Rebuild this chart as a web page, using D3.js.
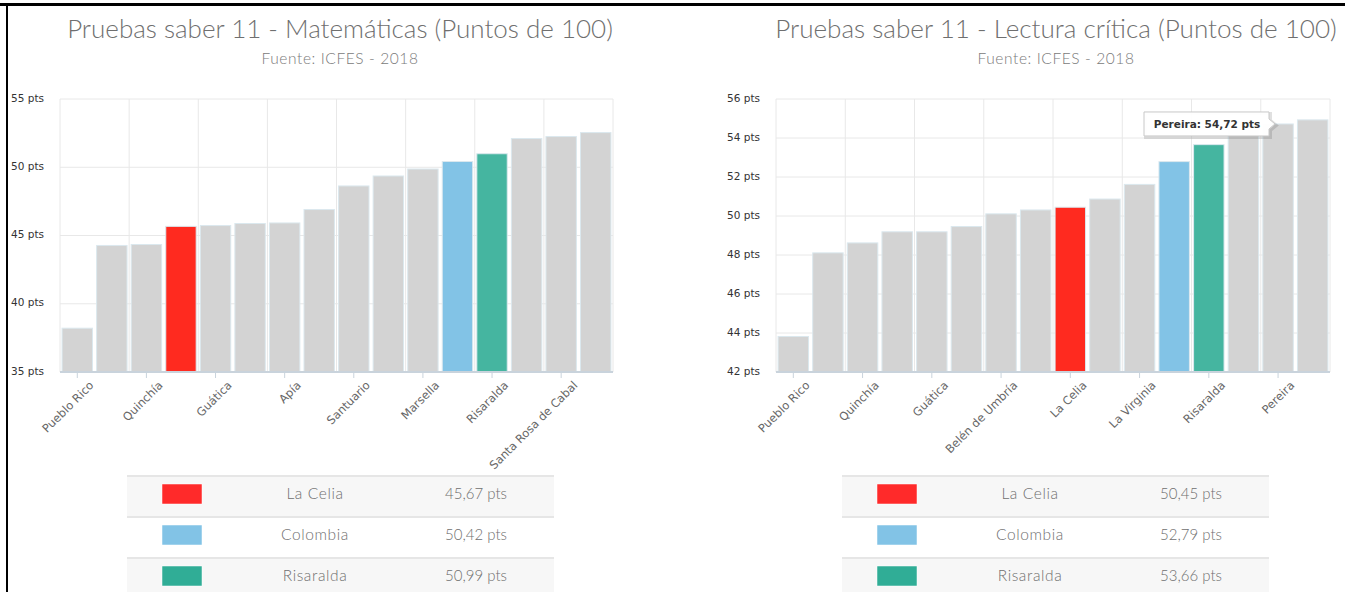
<!DOCTYPE html>
<html lang="es">
<head>
<meta charset="UTF-8">
<title>Pruebas saber 11</title>
<script src="https://cdnjs.cloudflare.com/ajax/libs/d3/7.8.5/d3.min.js"></script>
<style>
    body { margin: 0; background: #fff; }
    svg { display: block; }
    .thin { font-family: Lato, "Open Sans", sans-serif; font-weight: 300; }
    .axis text { font-family: "DejaVu Sans", Verdana, sans-serif; font-size: 10.5px; }
</style>
</head>
<body>
<svg id="chart" width="1345" height="592"></svg>
<script>
// Matematicas, ordered as in the picture
var mathCategories = ['Pueblo Rico', 'Mistrató', 'Quinchía', 'La Celia', 'Guática', 'Belén de Umbría',
    'Apía', 'Balboa', 'Santuario', 'La Virginia', 'Marsella', 'Colombia', 'Risaralda',
    'Dosquebradas', 'Santa Rosa de Cabal', 'Pereira'];
var mathValues = [38.21, 44.27, 44.34, 45.67, 45.73, 45.88, 45.92, 46.90, 48.63, 49.36, 49.87,
    50.42, 50.99, 52.10, 52.25, 52.54];
var mathTicks = [35, 40, 45, 50, 55];

// Lectura critica
var lecturaCategories = ['Pueblo Rico', 'Mistrató', 'Quinchía', 'Balboa', 'Guática', 'Apía',
    'Belén de Umbría', 'Santuario', 'La Celia', 'Marsella', 'La Virginia', 'Colombia', 'Risaralda',
    'Dosquebradas', 'Pereira', 'Santa Rosa de Cabal'];
var lecturaValues = [43.82, 48.11, 48.62, 49.19, 49.19, 49.46, 50.11, 50.31, 50.45, 50.87, 51.62,
    52.79, 53.66, 54.40, 54.72, 54.93];
var lecturaTicks = [42, 44, 46, 48, 50, 52, 54, 56];

var highlightNames = ['La Celia', 'Colombia', 'Risaralda'];
var barColors = { 'La Celia': '#ff2a1f', 'Colombia': '#82c3e6', 'Risaralda': '#45b5a0' };
var legendColors = { 'La Celia': '#ff2a2a', 'Colombia': '#82c3e6', 'Risaralda': '#30ad96' };

var es = d3.formatLocale({ decimal: ',', thousands: '.', grouping: [3], currency: ['$', ''] });
var fmt = es.format('.2f');

var svg = d3.select('#chart');

// page frame (cropped document)
svg.append('rect').attr('x', 0).attr('y', 3).attr('width', 1345).attr('height', 3).attr('fill', '#000');
svg.append('rect').attr('x', 6).attr('y', 3).attr('width', 2).attr('height', 589).attr('fill', '#000');

function fitText(sel, width) {
    var len = sel.node().getComputedTextLength();
    var size = parseFloat(sel.attr('font-size'));
    sel.attr('font-size', size * width / len);
}

function drawChart(opt) {
    var g = svg.append('g');

    var title = g.append('text').attr('class', 'thin')
        .attr('x', opt.center).attr('y', 38)
        .attr('text-anchor', 'middle').attr('fill', '#6f6f6f')
        .attr('font-size', 26)
        .text(opt.title);
    fitText(title, opt.titleWidth);

    g.append('text').attr('class', 'thin')
        .attr('x', opt.center).attr('y', 64)
        .attr('text-anchor', 'middle').attr('fill', '#7a7a7a')
        .attr('font-size', 15.5).attr('letter-spacing', 0.6)
        .text('Fuente: ICFES - 2018');

    var x = d3.scaleBand().domain(opt.categories)
        .range([opt.left, opt.right]).paddingInner(0.12).paddingOuter(0.06);
    var y = d3.scaleLinear().domain(d3.extent(opt.ticks)).range([372, 99]);

    // horizontal grid
    g.append('g').selectAll('line').data(opt.ticks).join('line')
        .attr('x1', opt.left).attr('x2', opt.right)
        .attr('y1', d => y(d)).attr('y2', d => y(d))
        .attr('stroke', '#e8e8e8');

    // vertical grid on every other category boundary
    var step = x.step();
    var bounds = d3.range(0, opt.categories.length + 1, 2);
    g.append('g').selectAll('line').data(bounds).join('line')
        .attr('x1', d => opt.left + d * step).attr('x2', d => opt.left + d * step)
        .attr('y1', 99).attr('y2', 372)
        .attr('stroke', '#e8e8e8');

    var data = opt.categories.map((c, i) => ({ name: c, value: opt.values[i] }));

    g.append('g').selectAll('rect').data(data).join('rect')
        .attr('x', d => x(d.name))
        .attr('width', x.bandwidth())
        .attr('y', d => y(d.value))
        .attr('height', d => y(opt.ticks[0]) - y(d.value))
        .attr('fill', d => barColors[d.name] || '#d3d3d3')
        .attr('stroke', '#dbe8ee').attr('stroke-width', 1);

    // y axis labels
    var yAxis = g.append('g').attr('class', 'axis')
        .attr('transform', 'translate(' + (opt.left - 13) + ',0)')
        .call(d3.axisLeft(y).tickValues(opt.ticks).tickSize(0).tickFormat(d => d + ' pts'));
    yAxis.select('.domain').remove();
    yAxis.selectAll('text').attr('fill', '#333').attr('dy', '0.2em');

    // x axis
    var shown = opt.categories.filter((c, i) => i % 2 === 0);
    var xAxis = g.append('g').attr('class', 'axis')
        .attr('transform', 'translate(0,372)')
        .call(d3.axisBottom(x).tickValues(shown).tickSize(6).tickSizeOuter(0));
    xAxis.select('.domain').attr('stroke', '#c9d3dc').attr('stroke-width', 2)
        .attr('d', 'M' + opt.left + ',0H' + opt.right);
    xAxis.selectAll('.tick line').attr('stroke', '#c9d3dc');
    xAxis.selectAll('text').attr('fill', '#666')
        .style('font-size', '11.5px')
        .attr('text-anchor', 'end')
        .attr('transform', 'translate(5,2) rotate(-45)')
        .attr('dx', 0).attr('dy', '0.7em');

    // legend table
    var tl = opt.tableLeft, tw = 427;
    var rows = highlightNames.map(n => ({ name: n, value: opt.values[opt.categories.indexOf(n)] }));
    var row = g.append('g').selectAll('g').data(rows).join('g')
        .attr('transform', (d, i) => 'translate(' + tl + ',' + (477 + i * 41) + ')');
    row.append('rect').attr('width', tw).attr('height', 40)
        .attr('fill', (d, i) => i % 2 === 0 ? '#f7f7f7' : '#fff');
    row.append('rect').attr('y', -2).attr('width', tw).attr('height', 2).attr('fill', '#e6e6e6');
    row.append('rect').attr('x', 35).attr('y', 7).attr('width', 40).attr('height', 20)
        .attr('fill', d => legendColors[d.name]).attr('stroke', '#fff').attr('stroke-width', 0.5);
    row.append('text').attr('class', 'thin')
        .attr('x', 188).attr('y', 22).attr('text-anchor', 'middle')
        .attr('font-size', 15.5).attr('letter-spacing', 0.6).attr('fill', '#6f6f6f')
        .text(d => d.name);
    row.append('text').attr('class', 'thin')
        .attr('x', 349).attr('y', 22).attr('text-anchor', 'middle')
        .attr('font-size', 15).attr('fill', '#6f6f6f')
        .text(d => fmt(d.value) + ' pts');

    return { x: x, y: y, g: g };
}

drawChart({
    title: 'Pruebas saber 11 - Matemáticas (Puntos de 100)', center: 340, titleWidth: 546,
    categories: mathCategories, values: mathValues, ticks: mathTicks,
    left: 60, right: 613, tableLeft: 127
});

var right = drawChart({
    title: 'Pruebas saber 11 - Lectura crítica (Puntos de 100)', center: 1056, titleWidth: 562,
    categories: lecturaCategories, values: lecturaValues, ticks: lecturaTicks,
    left: 776, right: 1330, tableLeft: 842
});

// hover tooltip on Pereira
var tipName = 'Pereira';
var tipValue = lecturaValues[lecturaCategories.indexOf(tipName)];
var tipX = right.x(tipName) + right.x.bandwidth() * 0.4;
var tipY = right.y(tipValue);
var tip = right.g.append('g').attr('transform', 'translate(' + tipX + ',' + tipY + ')');
var tipPath = 'M-131,-12H-6V-5L0,0L-6,5V12H-131Z';
tip.append('path').attr('d', tipPath).attr('transform', 'translate(1.5,1.5)')
    .attr('fill', 'none').attr('stroke', '#000').attr('stroke-opacity', 0.12).attr('stroke-width', 3);
tip.append('path').attr('d', tipPath).attr('fill', '#fff').attr('fill-opacity', 0.96)
    .attr('stroke', '#c8c8c8');
tip.append('text')
    .attr('x', -68).attr('y', 4).attr('text-anchor', 'middle')
    .attr('font-family', '"DejaVu Sans", Verdana, sans-serif').attr('font-size', 10.5)
    .attr('font-weight', 'bold').attr('fill', '#333')
    .text(tipName + ': ' + fmt(tipValue) + ' pts');
</script>
</body>
</html>
